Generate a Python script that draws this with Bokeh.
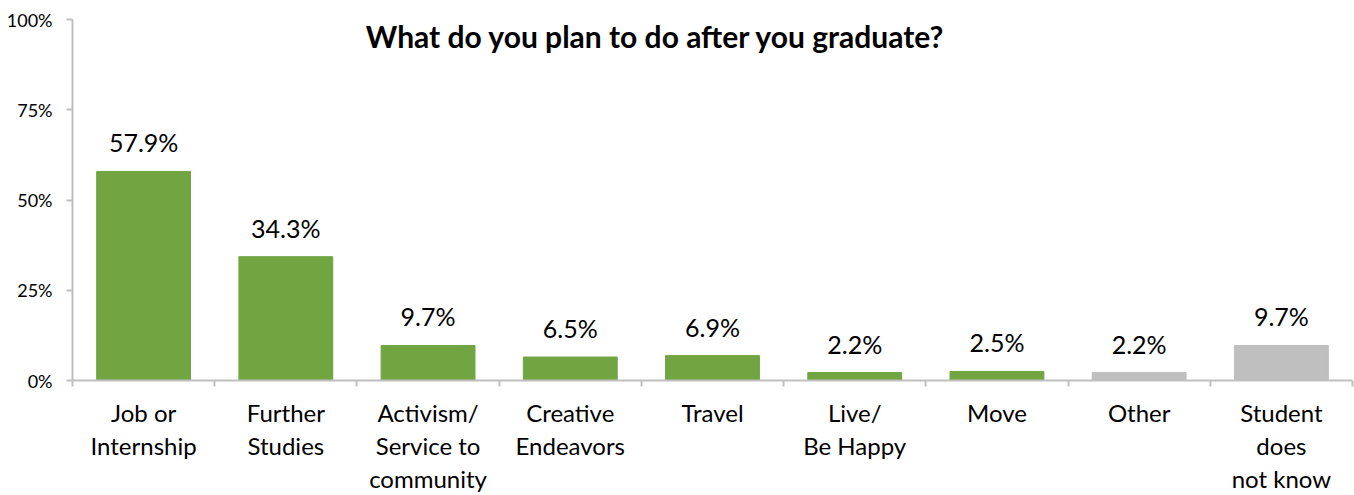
from bokeh.plotting import figure
from bokeh.models import FixedTicker, ColumnDataSource, Label, Range1d
from bokeh.core.properties import value
from bokeh.embed import file_html
from bokeh.resources import INLINE

categories = ["Job or\nInternship", "Further\nStudies", "Activism/\nService to\ncommunity",
              "Creative\nEndeavors", "Travel", "Live/\nBe Happy", "Move", "Other",
              "Student\ndoes\nnot know"]
values = [57.9, 34.3, 9.7, 6.5, 6.9, 2.2, 2.5, 2.2, 9.7]
value_labels = ["57.9%", "34.3%", "9.7%", "6.5%", "6.9%", "2.2%", "2.5%", "2.2%", "9.7%"]
colors = ["#70A542"] * 7 + ["#BFBFBF"] * 2
y_ticks = [0, 25, 50, 75, 100]
y_tick_labels = ["0%", "25%", "50%", "75%", "100%"]
title_text = "What do you plan to do after you graduate?"

FONT = "Lato"
n = len(categories)
xs = [i + 0.5 for i in range(n)]

src = ColumnDataSource(dict(x=xs, top=values, color=colors, lab=value_labels))

p = figure(width=1354, height=495, output_backend="svg", toolbar_location=None,
           x_range=Range1d(0, n), y_range=Range1d(0, 100),
           min_border_left=72, min_border_right=2, min_border_top=19, min_border_bottom=114)
p.outline_line_color = None
p.xgrid.grid_line_color = None
p.ygrid.grid_line_color = None

p.vbar(x="x", top="top", width=0.66, color="color", source=src)
p.text(x="x", y="top", text="lab", source=src, text_align="center", text_baseline="alphabetic",
       y_offset=-29, text_font=value(FONT), text_font_size="25px", text_color="#000000")

# x axis
xa = p.xaxis[0]
xa.ticker = FixedTicker(ticks=xs, minor_ticks=list(range(n + 1)))
xa.major_label_overrides = {x: c for x, c in zip(xs, categories)}
xa.major_tick_line_color = None
xa.minor_tick_in = 0
xa.minor_tick_out = 6
xa.minor_tick_line_color = "#BFBFBF"
xa.minor_tick_line_width = 2
xa.axis_line_color = "#BFBFBF"
xa.axis_line_width = 2
xa.major_label_text_font = FONT
xa.major_label_text_font_size = "24px"
xa.major_label_text_line_height = 1.14
xa.major_label_text_color = "#000000"
xa.major_label_standoff = 11

# y axis
ya = p.yaxis[0]
ya.ticker = FixedTicker(ticks=y_ticks, minor_ticks=[])
ya.major_label_overrides = {t: l for t, l in zip(y_ticks, y_tick_labels)}
ya.major_tick_in = 0
ya.major_tick_out = 6
ya.major_tick_line_color = "#BFBFBF"
ya.major_tick_line_width = 2
ya.axis_line_color = "#BFBFBF"
ya.axis_line_width = 2
ya.major_label_text_font = FONT
ya.major_label_text_font_size = "18px"
ya.major_label_text_color = "#000000"
ya.major_label_standoff = 14

p.add_layout(Label(x=4.1, y=95.4, text=title_text, text_align="center", text_baseline="middle",
                   text_font=FONT, text_font_size="30px", text_font_style="bold",
                   text_color="#000000"))

open("out.html", "w").write(file_html(p, INLINE))
